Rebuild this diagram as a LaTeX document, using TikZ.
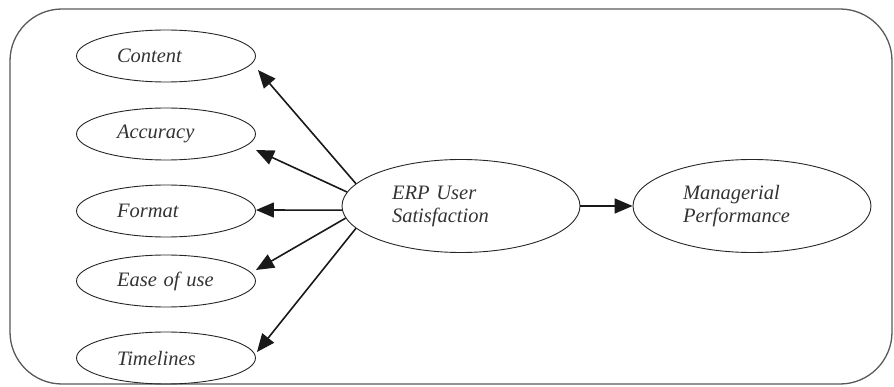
\documentclass[tikz,border=0pt]{standalone}
\usepackage{fontspec}
\setmainfont{Liberation Serif}
\usetikzlibrary{shapes.geometric,arrows.meta,calc}
\begin{document}
\begin{tikzpicture}[x=1pt,y=-1pt,
  lbl/.style={font=\fontsize{20.5}{23}\selectfont\itshape, text=black!80},
  small/.style={lbl,ellipse,draw=black!85,line width=0.9pt,minimum width=179pt,minimum height=52pt,inner sep=0pt,text width=98pt,align=left},
  big/.style={lbl,ellipse,draw=black!85,line width=0.9pt,minimum width=238pt,minimum height=93pt,inner sep=0pt,text width=138pt,align=left},
  arr/.style={-{Triangle[length=18pt,width=15pt]},line width=1.6pt,black!90}]
\useasboundingbox (0,0) rectangle (894,387);
\draw[black!65,line width=1.3pt,rounded corners=52pt] (10,9) rectangle (892,384);

\node[small] (content) at (166,56) {\mbox{Content}};
\node[small] (accuracy) at (166,134) {\mbox{Accuracy}};
\node[small] (format) at (166,211) {\mbox{Format}};
\node[small] (ease) at (166,281) {\mbox{Ease of use}};
\node[small] (time) at (166,358) {\mbox{Timelines}};

\node[big] (erp) at (461,206) {ERP User\\Satisfaction};
\node[big] (mgr) at (752,206) {Managerial\\Performance};

\draw[arr] (erp.168.6) -- ($(content.east)+(2,14)$);
\draw[arr] (erp.173.7) -- ($(accuracy.east)+(0,16)$);
\draw[arr] (erp.182) -- ($(format.east)+(0,-1)$);
\draw[arr] (erp.186.8) -- ($(ease.east)+(0,-11)$);
\draw[arr] (erp.192.5) -- ($(time.east)+(1,-6)$);
\draw[arr] (erp.east) -- (mgr.west);
\end{tikzpicture}
\end{document}
